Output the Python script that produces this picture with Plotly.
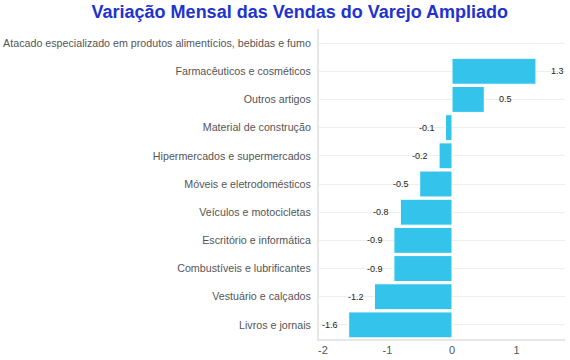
import plotly.graph_objects as go

categories = [
    "Livros e jornais",
    "Vestuário e calçados",
    "Combustíveis e lubrificantes",
    "Escritório e informática",
    "Veículos e motocicletas",
    "Móveis e eletrodomésticos",
    "Hipermercados e supermercados",
    "Material de construção",
    "Outros artigos",
    "Farmacêuticos e cosméticos",
    "Atacado especializado em produtos alimentícios, bebidas e fumo",
]
values = [-1.6, -1.2, -0.9, -0.9, -0.8, -0.5, -0.2, -0.1, 0.5, 1.3, None]
x_ticks = [-2, -1, 0, 1]
x_tick_labels = ["-2", "-1", "0", "1"]

fig = go.Figure()
fig.add_trace(go.Bar(
    x=values, y=categories, orientation="h",
    marker=dict(color="#33C3EB", line=dict(color="white", width=1)),
    width=0.92,
    hoverinfo="x+y",
))

for c, v in zip(categories, values):
    if v is None:
        continue
    fig.add_annotation(
        x=v, y=c, text=str(v), showarrow=False,
        xanchor="left" if v >= 0 else "right",
        xshift=13 if v >= 0 else -9,
        font=dict(size=9, color="#222", family="Liberation Sans, Arial"),
    )

fig.update_layout(
    width=570, height=360,
    margin=dict(l=319, r=5, t=29, b=21),
    paper_bgcolor="white", plot_bgcolor="white",
    title=dict(
        text="<b>Variação Mensal das Vendas do Varejo Ampliado</b>",
        x=0.526, xanchor="center", y=0.967, yanchor="middle",
        font=dict(size=18, color="#2233CC", family="Liberation Sans, Arial"),
    ),
    font=dict(family="Liberation Sans, Arial", size=11, color="#444"),
    showlegend=False,
    bargap=0.08,
)
fig.update_xaxes(
    range=[-2.06, 1.75], tickvals=x_ticks, ticktext=x_tick_labels,
    showgrid=False, zeroline=False,
    showline=True, linecolor="#e6e6e6", linewidth=2,
    tickfont=dict(size=11, color="#555"), ticks="", automargin=False,
)
fig.update_yaxes(
    showgrid=True, gridcolor="#eeeeee", gridwidth=1,
    showline=True, linecolor="#e6e6e6", linewidth=2,
    tickfont=dict(size=10.7, color="#555"), ticks="", ticklabelstandoff=4,
    automargin=False,
)

fig.write_html("out.html", config={"displayModeBar": False},
               post_script="document.body.style.margin='0';")
